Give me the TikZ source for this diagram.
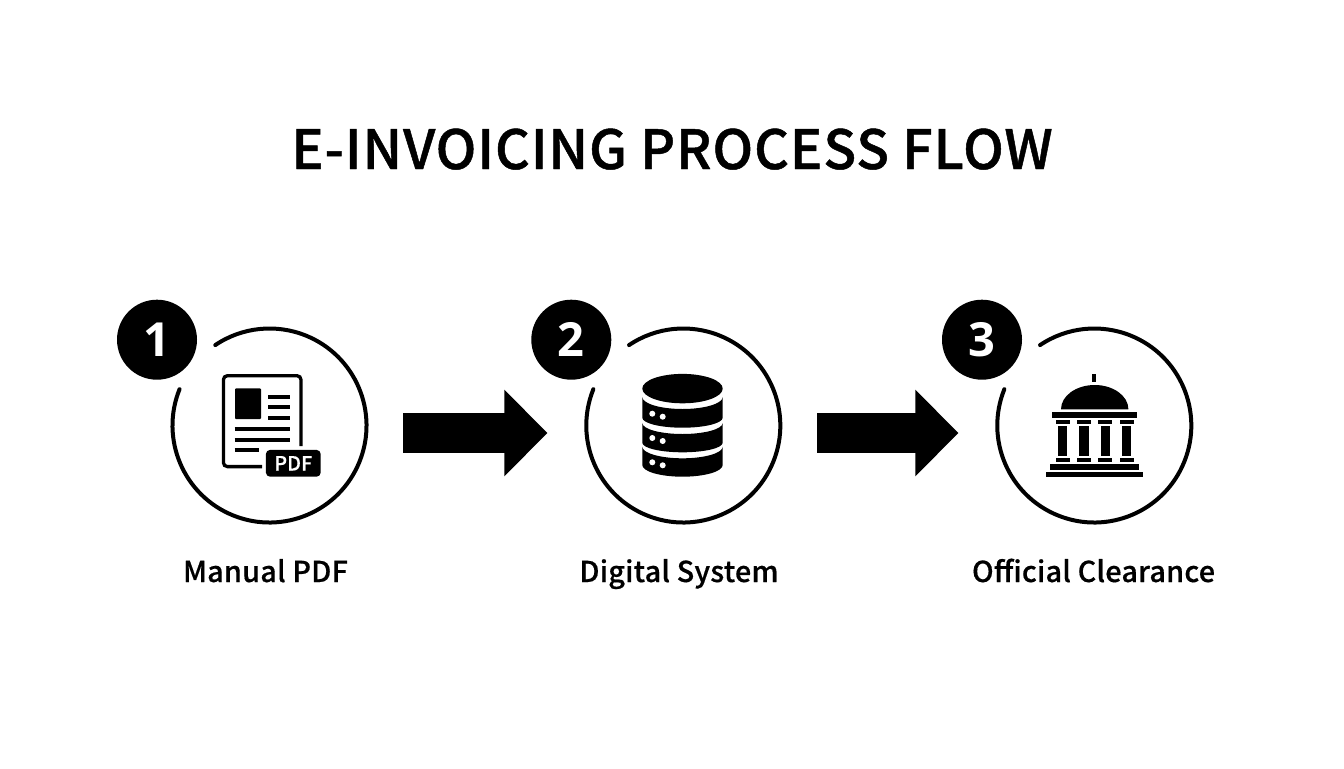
\documentclass[tikz,border=0pt]{standalone}
\usepackage{fontspec}
\setmainfont{Noto Sans CJK SC}
\newfontfamily\medfont{Noto Sans CJK SC Medium}[FakeBold=0.5, LetterSpace=0.8]
\newfontfamily\headfont{Noto Sans CJK SC Medium}[FakeBold=0.9, LetterSpace=1.8]
\newfontfamily\numfont{Open Sans}
\usetikzlibrary{arrows.meta}
\tikzset{
  ring/.style={circle, minimum size=98.5pt, inner sep=0pt},
  ringline/.style={line width=2pt, line cap=round},
  badge/.style={circle, fill=black, text=white, minimum size=40pt, inner sep=0pt, font=\numfont\bfseries\fontsize{23.5}{23.5}\selectfont},
  flowarrow/.style={line width=20pt, -{Triangle[length=21.5pt, width=42pt]}, shorten <=17.5pt, shorten >=18.5pt},
  steplabel/.style={anchor=base, inner sep=0pt, font=\medfont\fontsize{14.4}{14.4}\selectfont},
  iconline/.style={line width=2pt},
}
\begin{document}
\begin{tikzpicture}[x=0.5pt, y=0.5pt]
\useasboundingbox (0,0) rectangle (1344,768);
\node[anchor=base, inner sep=0pt, font=\headfont\fontsize{27}{27}\selectfont] (title) at (672,599) {E-INVOICING PROCESS FLOW};
\node[ring] (ring1) at (269.5,342.5) {};
\node[ring] (ring2) at (683.3,342.5) {};
\node[ring] (ring3) at (1094.3,342.5) {};
\draw[ringline] (ring1.center) ++(158:97) arc[start angle=158, end angle=484, radius=97];
\draw[ringline] (ring2.center) ++(158:97) arc[start angle=158, end angle=484, radius=97];
\draw[ringline] (ring3.center) ++(158:97) arc[start angle=158, end angle=484, radius=97];
\node[badge] (badge1) at (157,428.3) {1};
\node[badge] (badge2) at (571.3,428.3) {2};
\node[badge] (badge3) at (982,428.3) {3};
\draw[flowarrow] ([yshift=-3.75pt]ring1.east) -- ([yshift=-3.75pt]ring2.west);
\draw[flowarrow] ([yshift=-3.75pt]ring2.east) -- ([yshift=-3.75pt]ring3.west);
\node[steplabel] (label1) at (265.5,186) {Manual PDF};
\node[steplabel] (label2) at (679,186) {Digital System};
\node[steplabel] (label3) at (1093.5,186) {Official Clearance};
\draw[line width=1.65pt, rounded corners=2pt] (301,322) -- (301,392.3) -- (223.4,392.3) -- (223.4,301.4) -- (262,301.4);
\fill[rounded corners=0.5pt] (235,349) rectangle (261,379.7);
\draw[iconline] (268,371) -- (290,371);
\draw[iconline] (268,360.7) -- (290,360.7);
\draw[iconline] (268,349.7) -- (290,349.7);
\draw[iconline] (234.5,338.7) -- (290,338.7);
\draw[iconline] (234.5,328.3) -- (290,328.3);
\draw[iconline] (234.5,317.7) -- (259,317.7);
\node[fill=black, text=white, rounded corners=2pt, minimum width=27.35pt, minimum height=13.35pt, inner sep=0pt, font=\medfont\fontsize{9.8}{9.8}\selectfont] (pdftag) at (293.3,304.7) {PDF};
\fill (682.5,379.4) ellipse[x radius=40.2, y radius=14.7];
\fill (642.3,371) arc[start angle=180, end angle=360, x radius=40.2, y radius=12] -- (722.7,350.3) arc[start angle=0, end angle=-180, x radius=40.2, y radius=10] -- cycle;
\fill (642.3,345) arc[start angle=180, end angle=360, x radius=40.2, y radius=11] -- (722.7,325.3) arc[start angle=0, end angle=-180, x radius=40.2, y radius=9.6] -- cycle;
\fill (642.3,321.3) arc[start angle=180, end angle=360, x radius=40.2, y radius=11.6] -- (722.7,303) arc[start angle=0, end angle=-180, x radius=40.2, y radius=11.7] -- cycle;
\fill[white] (652.3,354.3) circle (3);
\fill[white] (662.7,351.3) circle (3);
\fill[white] (652.3,330) circle (3);
\fill[white] (662.7,327) circle (3);
\fill[white] (652.3,305.7) circle (3);
\fill[white] (662.7,302.7) circle (3);
\fill (1092,385.7) rectangle (1096,394);
\fill (1061,358.7) arc[start angle=180, end angle=0, x radius=33.7, y radius=24.3] -- cycle;
\fill (1051.7,350.3) rectangle (1137.3,355.7);
\fill (1055.7,343.7) rectangle (1069.7,348.3);
\fill (1077,343.7) rectangle (1091,348.3);
\fill (1098.3,343.7) rectangle (1112.3,348.3);
\fill (1119.7,343.7) rectangle (1133.7,348.3);
\fill (1058,312.3) rectangle (1067.3,341.7);
\fill (1079.3,312.3) rectangle (1088.7,341.7);
\fill (1100.7,312.3) rectangle (1110,341.7);
\fill (1122,312.3) rectangle (1131.3,341.7);
\fill (1055.7,305.7) rectangle (1069.7,310);
\fill (1077,305.7) rectangle (1091,310);
\fill (1098.3,305.7) rectangle (1112.3,310);
\fill (1119.7,305.7) rectangle (1133.7,310);
\fill (1050,298.3) rectangle (1138.7,303.7);
\fill (1045.7,290.7) rectangle (1143,296.3);
\end{tikzpicture}
\end{document}
